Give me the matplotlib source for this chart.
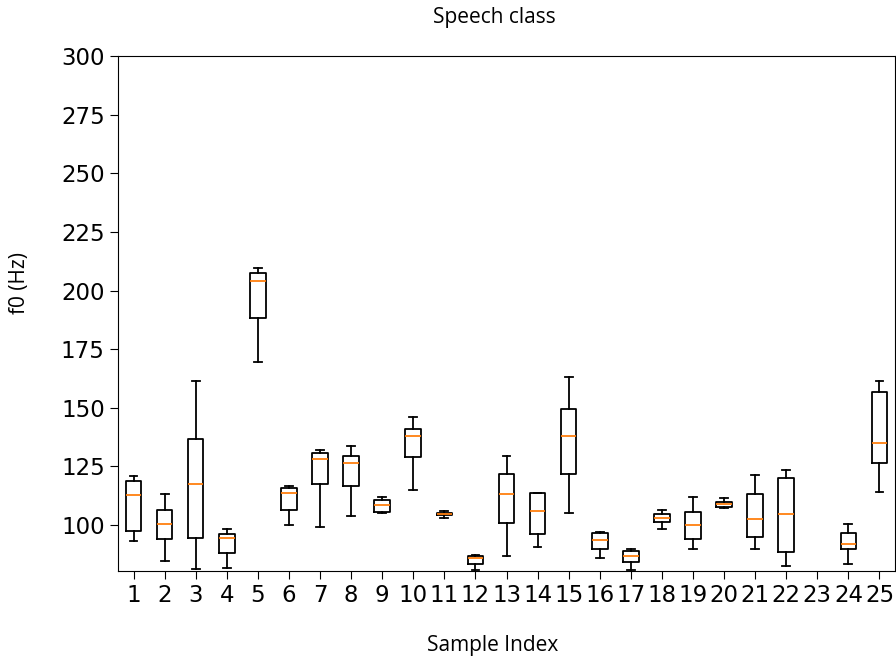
import matplotlib
matplotlib.use('Agg')
import matplotlib.pyplot as plt

# values (sample 23 has no data)
samples = list(range(1, 26))
whislo = [93.3, 84.6, 81.4, 81.8, 169.4, 100.1, 99.3, 103.8, 105.3, 115.1,
          102.9, 80.8, 86.7, 90.5, 105.0, 86.1, 80.8, 98.3, 89.9, 107.2,
          89.6, 82.5, None, 83.5, 114.1]
q1 = [97.6, 93.9, 94.3, 87.9, 188.1, 106.3, 117.5, 116.6, 105.5, 129.0,
      104.3, 83.2, 100.9, 96.2, 121.6, 89.8, 84.3, 101.4, 94.2, 107.8,
      95.0, 88.5, None, 89.6, 126.4]
med = [112.9, 100.6, 117.6, 94.5, 203.9, 113.6, 128.3, 126.4, 108.7, 138.0,
       104.8, 86.1, 113.2, 105.8, 138.0, 93.5, 86.9, 102.9, 100.1, 109.0,
       102.6, 104.8, None, 91.9, 135.0]
q3 = [118.9, 106.4, 136.5, 96.3, 207.6, 115.6, 130.8, 129.4, 110.5, 141.1,
      105.3, 86.9, 121.7, 113.5, 149.3, 96.5, 88.9, 104.6, 105.7, 109.8,
      113.1, 120.2, None, 96.5, 156.6]
whishi = [120.9, 113.1, 161.4, 98.4, 209.5, 116.6, 132.0, 133.7, 111.9, 146.1,
          106.1, 87.2, 129.4, 113.5, 163.3, 97.0, 89.8, 106.3, 112.1, 111.4,
          121.2, 123.5, None, 100.6, 161.5]

stats = []
pos = []
for i in range(len(samples)):
    if med[i] is None:
        continue
    stats.append({'whislo': whislo[i], 'q1': q1[i], 'med': med[i],
                  'q3': q3[i], 'whishi': whishi[i], 'fliers': []})
    pos.append(samples[i])

fig = plt.figure(figsize=(8.96, 6.6), dpi=100)
ax = fig.add_axes([118 / 896, 1 - 571 / 660, 777 / 896, 515 / 660])

ax.bxp(stats, positions=pos, widths=0.5, showfliers=False,
       boxprops=dict(linewidth=1.3),
       whiskerprops=dict(linewidth=1.3),
       capprops=dict(linewidth=1.3),
       medianprops=dict(color='#ff7f0e', linewidth=1.3))

ax.set_xlim(0.5, 25.5)
ax.set_ylim(80.4, 300)
ax.set_xticks(samples)
ax.set_xticklabels([str(s) for s in samples])
ax.set_yticks(range(100, 301, 25))
ax.tick_params(labelsize=16.5, length=6)

fig.text(494 / 896, 1 - 17 / 660, 'Speech class', ha='center', va='center',
         fontsize=15, family='Open Sans')
fig.text(493 / 896, 1 - 645 / 660, 'Sample Index', ha='center', va='center',
         fontsize=15, family='Open Sans')
fig.text(20 / 896, 1 - 283 / 660, 'f0 (Hz)', ha='center', va='center',
         rotation=90, fontsize=15, family='Open Sans')

fig.savefig('out.png', dpi=100)
